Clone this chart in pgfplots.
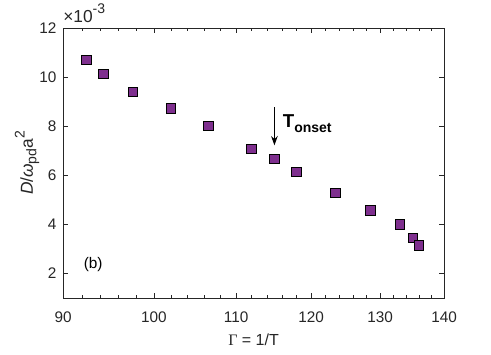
\documentclass[border=0pt]{standalone}
\usepackage{fontspec}
\setmainfont{Liberation Sans}
\newfontfamily\seriffont{Liberation Serif}
\usepackage{pgfplots}
\pgfplotsset{compat=1.18}
\usetikzlibrary{arrows.meta}
\definecolor{mpurple}{RGB}{126,47,142}
\definecolor{axgray}{RGB}{38,38,38}

\begin{document}
\begin{tikzpicture}[x=0.75pt,y=0.75pt]
% picture is 491x354 px, axis box sits at (63,28)-(444,298) px
\useasboundingbox (-47.25pt,-42.2pt) rectangle (321pt,223.5pt);
\begin{axis}[
    at={(0,0)}, anchor=south west,
    scale only axis,
    width=285.75pt, height=202.5pt,
    xmode=log,
    xmin=90, xmax=140,
    ymin=1, ymax=12,
    xtick={90,100,110,120,130,140},
    xticklabels={90,100,110,120,130,140},
    minor xtick={92,94,96,98,102,104,106,108,112,114,116,118,122,124,126,128,132,134,136,138},
    ytick={2,4,6,8,10,12},
    yticklabels={2,4,6,8,10,12},
    tick align=inside,
    major tick length=3.5pt,
    minor tick length=2pt,
    axis line style={axgray, line width=0.5pt},
    every tick/.style={axgray, line width=0.5pt},
    tick label style={font=\fontsize{11.5}{12}\selectfont, text=axgray},
    xticklabel style={yshift=-7pt},
    yticklabel style={xshift=-1.5pt},
    xlabel={{\seriffont Γ} = 1/T},
    xlabel style={font=\fontsize{12}{13}\selectfont, text=axgray,
        at={(axis description cs:0.5,0)}, anchor=center, yshift=-31.5pt},
    ylabel={\textit{D}/\textit{ω}\raisebox{-0.4ex}{\fontsize{10.5}{11}\selectfont pd}a\raisebox{0.9ex}{\fontsize{10.5}{11}\selectfont 2}},
    ylabel style={font=\fontsize{13}{14}\selectfont, text=axgray,
        at={(axis description cs:0,0.5)}, anchor=center, rotate=0, yshift=27pt},
    clip=false,
]
\addplot[only marks, mark=square*, mark size=3.6pt,
    mark options={fill=mpurple, draw=black, line width=0.6pt}]
coordinates {
    (92.5,10.70)
    (94.3,10.13)
    (97.6,9.40)
    (102.0,8.72)
    (106.5,8.01)
    (112.0,7.08)
    (115.0,6.67)
    (118.0,6.14)
    (123.4,5.28)
    (128.5,4.56)
    (133.0,4.00)
    (135.0,3.45)
    (136.0,3.15)
};
\draw[-{Stealth[length=7pt,width=5pt]}, line width=0.8pt, black]
    (axis cs:115,8.78) -- (axis cs:115,7.22);
\node[anchor=west, inner sep=0pt, font=\bfseries\fontsize{14}{15}\selectfont]
    at (axis cs:116.1,8.1) {T\raisebox{-0.55ex}{\fontsize{10.5}{12}\selectfont onset}};
\node[font=\fontsize{11.5}{12}\selectfont, text=black] at (axis cs:93.2,2.35) {(b)};
\node[anchor=south west, inner sep=0pt, font=\fontsize{13}{14}\selectfont, text=axgray]
    at (rel axis cs:0,1) [yshift=4pt] {×10\raisebox{0.9ex}{\fontsize{10.5}{11}\selectfont -3}};
\end{axis}
\end{tikzpicture}
\end{document}
